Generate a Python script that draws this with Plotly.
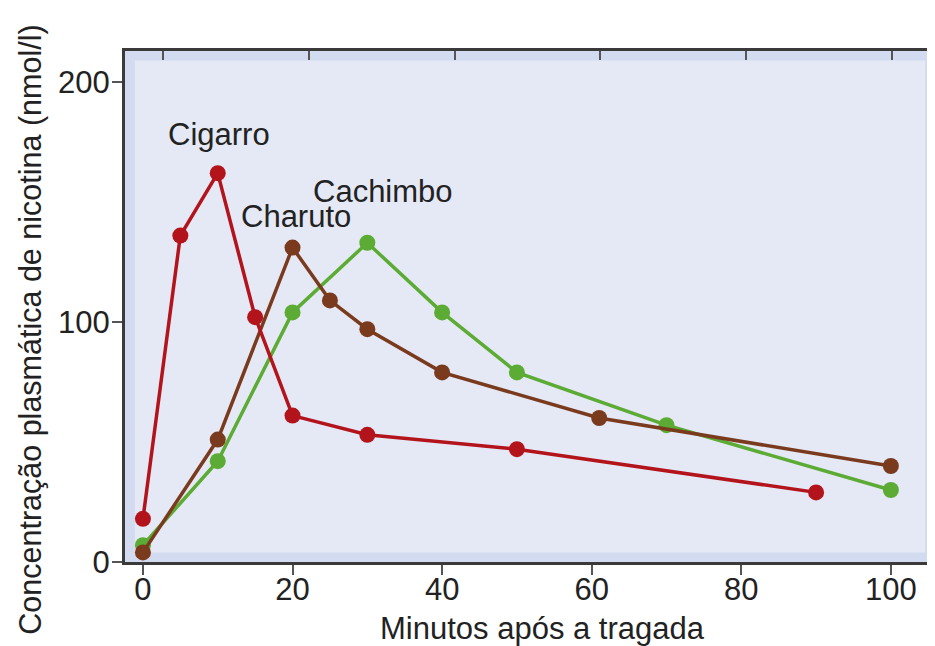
import plotly.graph_objects as go

# minutes after the puff / plasma nicotine (nmol/l)
cigarro_x = [0, 5, 10, 15, 20, 30, 50, 90]
cigarro_y = [18, 136, 162, 102, 61, 53, 47, 29]

charuto_x = [0, 10, 20, 25, 30, 40, 61, 100]
charuto_y = [4, 51, 131, 109, 97, 79, 60, 40]

cachimbo_x = [0, 10, 20, 30, 40, 50, 70, 100]
cachimbo_y = [7, 42, 104, 133, 104, 79, 57, 30]

red = '#b3141c'
brown = '#7a3a1e'
green = '#5bab34'
font = 'Liberation Sans, Arial, Helvetica, sans-serif'
fs = 31

fig = go.Figure()

# draw order: green, brown, red on top
for xs, ys, col in [(cachimbo_x, cachimbo_y, green),
                    (charuto_x, charuto_y, brown),
                    (cigarro_x, cigarro_y, red)]:
       fig.add_trace(go.Scatter(x=xs, y=ys, mode='lines+markers',
                                line=dict(color=col, width=3.5),
                                marker=dict(color=col, size=16),
                                showlegend=False, hoverinfo='skip'))

# invisible trace so the top tick axis gets drawn
fig.add_trace(go.Scatter(x=[0], y=[0], xaxis='x2', mode='markers',
                         marker=dict(opacity=0), showlegend=False, hoverinfo='skip'))

# labels next to the curves
fig.add_annotation(x=10.2, y=178, text='Cigarro', showarrow=False,
                   font=dict(size=fs, color='#222'))
fig.add_annotation(x=12.8, y=144, text='Charuto', showarrow=False,
                   font=dict(size=fs, color='#222'), xanchor='left')
fig.add_annotation(x=22.5, y=154.5, text='Cachimbo', showarrow=False,
                   font=dict(size=fs, color='#222'), xanchor='left')

# axis titles
fig.add_annotation(xref='paper', yref='paper', x=0.516, y=-0.131,
                   text='Minutos após a tragada', showarrow=False,
                   font=dict(size=fs, color='#222'), yanchor='middle')
fig.add_annotation(xref='paper', yref='paper', x=-0.117, y=0.455,
                   text='Concentração plasmática de nicotina (nmol/l)',
                   textangle=-90, showarrow=False,
                   font=dict(size=30.5, color='#222'), xanchor='center', yanchor='middle')

# darker inner band of the panel
fig.add_shape(type='rect', xref='paper', yref='paper',
              x0=0.006, x1=0.994, y0=0.009, y1=0.991,
              line=dict(color='#d2dbef', width=10), layer='below')

# page body adds an 8px offset, so the figure is a little smaller
fig.update_layout(
       width=927, height=638,
       margin=dict(l=117, r=0, t=43, b=84),
       paper_bgcolor='white',
       plot_bgcolor='#e5e9f5',
       font=dict(family=font, size=fs, color='#222'),
       xaxis=dict(range=[-2.4, 105.9], tickvals=[0, 20, 40, 60, 80, 100],
                  ticks='outside', ticklen=10, tickwidth=2, tickcolor='#555',
                  ticklabelstandoff=-12,
                  showline=True, linecolor='#3a3a3a', linewidth=3, mirror=True,
                  showgrid=False, zeroline=False,
                  tickfont=dict(size=fs, color='#222')),
       xaxis2=dict(overlaying='x', side='top', range=[-2.4, 105.9],
                   tick0=2.67, dtick=19.5, ticks='inside', ticklen=9,
                   tickwidth=2, tickcolor='#555', showticklabels=False,
                   showline=False, showgrid=False, zeroline=False),
       yaxis=dict(range=[0, 212.9], tickvals=[0, 100, 200],
                  ticks='outside', ticklen=10, tickwidth=2, tickcolor='#555',
                  ticklabelstandoff=-4,
                  showline=True, linecolor='#3a3a3a', linewidth=3,
                  showgrid=False, zeroline=False,
                  tickfont=dict(size=fs, color='#222')),
)

fig.write_html("out.html")
